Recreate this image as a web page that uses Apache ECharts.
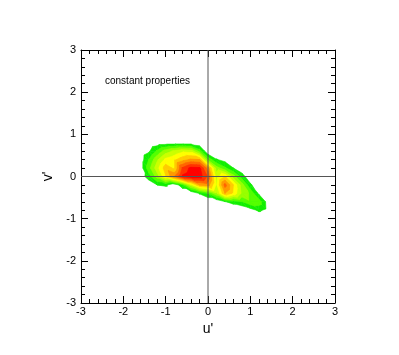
<!DOCTYPE html>
<html>
<head>
<meta charset="utf-8">
<script src="https://cdn.jsdelivr.net/npm/echarts@6/dist/echarts.min.js"></script>
<style>
html, body { margin: 0; padding: 0; background: #fff; }
#main { width: 399px; height: 355px; }
</style>
</head>
<body>
<div id="main"></div>
<script>
// grid nodes of the joint pdf (u', v')
var uNodes = [-1.8, -1.6, -1.4, -1.2, -1.0, -0.8, -0.6, -0.4, -0.2, 0, 0.2, 0.4, 0.6, 0.8, 1.0, 1.2, 1.4, 1.6];
var vNodes = [1.0, 0.8, 0.6, 0.4, 0.2, 0, -0.2, -0.4, -0.6, -0.8, -1.0];
// one row per v node
var density = [
    [0, 0, 0, 0, 0, 0, 0, 0, 0, 0, 0, 0, 0, 0, 0, 0, 0, 0],
    [0, 0, 0, 0.3, 0.4, 0.4, 0.4, 0.4, 0.1, 0, 0, 0, 0, 0, 0, 0, 0, 0],
    [0, 0.2, 0.8, 2.2, 3.5, 4.2, 4.8, 4.6, 2.6, 0, 0, 0, 0, 0, 0, 0, 0, 0],
    [0, 0.3, 2.0, 3.8, 5.3, 5.8, 6.6, 7.2, 7.0, 2.8, 1.1, 0.6, 0, 0, 0, 0, 0, 0],
    [0, 0.3, 2.6, 4.6, 6.6, 5.8, 9.2, 10.3, 10.2, 7.5, 3.5, 2.2, 1.0, 0.3, 0, 0, 0, 0],
    [0, 0.4, 1.5, 3.5, 5.9, 8.0, 10.2, 10.7, 10.6, 8.8, 4.5, 6.0, 3.5, 1.5, 0.2, 0, 0, 0],
    [0, 0, 0.3, 1.0, 1.2, 0.2, 1.7, 4.5, 7.0, 7.5, 4.8, 8.4, 6.0, 3.5, 1.2, 0.2, 0, 0],
    [0, 0, 0, 0, 0, 0, 0, 0, 1.1, 2.0, 3.8, 7.0, 5.8, 3.8, 2.8, 0.8, 0, 0],
    [0, 0, 0, 0, 0, 0, 0, 0, 0, 0, 0, 0.9, 1.4, 1.9, 2.8, 2.6, 0.6, 0],
    [0, 0, 0, 0, 0, 0, 0, 0, 0, 0, 0, 0, 0, 0, 0.5, 1.2, 0.7, 0],
    [0, 0, 0, 0, 0, 0, 0, 0, 0, 0, 0, 0, 0, 0, 0, 0, 0, 0]
];
var levels = [1, 2, 3, 4, 5, 6, 7, 8, 9, 10];
var levelColors = ['#11ee00', '#55ff00', '#99ff00', '#ccff00', '#ffff00', '#ffcc00', '#ff9900', '#ff6600', '#ff3300', '#ff0000'];

// keep the part of a triangle where value >= t (values are linear on it)
function clipTri(pts, t) {
    var out = [];
    for (var i = 0; i < pts.length; i++) {
        var p = pts[i], q = pts[(i + 1) % pts.length];
        var pin = p[2] >= t, qin = q[2] >= t;
        if (pin) out.push(p);
        if (pin !== qin) {
            var f = (t - p[2]) / (q[2] - p[2]);
            out.push([p[0] + f * (q[0] - p[0]), p[1] + f * (q[1] - p[1]), t]);
        }
    }
    return out;
}

function renderLevel(params, api) {
    var t = api.value(2);
    var color = levelColors[params.dataIndex];
    var children = [];
    for (var r = 0; r < vNodes.length - 1; r++) {
        for (var c = 0; c < uNodes.length - 1; c++) {
            var a = [uNodes[c], vNodes[r], density[r][c]];
            var b = [uNodes[c + 1], vNodes[r], density[r][c + 1]];
            var d = [uNodes[c], vNodes[r + 1], density[r + 1][c]];
            var e = [uNodes[c + 1], vNodes[r + 1], density[r + 1][c + 1]];
            [[a, b, e], [a, e, d]].forEach(function (tri) {
                var poly = clipTri(tri, t);
                if (poly.length < 3) return;
                children.push({
                    type: 'polygon',
                    shape: { points: poly.map(function (p) { return api.coord([p[0], p[1]]); }) },
                    style: { fill: color, stroke: color, lineWidth: 0.6 }
                });
            });
        }
    }
    return { type: 'group', children: children };
}

var myChart = echarts.init(document.getElementById('main'));

var tickColor = '#000';
var baseAxis = {
    type: 'value',
    min: -3,
    max: 3,
    interval: 1,
    axisLine: { onZero: false, lineStyle: { color: tickColor, width: 1 } },
    axisTick: { inside: true, length: 7, lineStyle: { color: tickColor } },
    minorTick: { show: true, splitNumber: 5, length: 4, lineStyle: { color: tickColor } },
    splitLine: { show: false },
    axisLabel: { color: '#000', fontSize: 11, fontFamily: 'Liberation Sans' }
};

option = {
    animation: false,
    grid: { left: 81, top: 50, width: 254, height: 253 },
    xAxis: [
        Object.assign({}, baseAxis, {
            position: 'bottom',
            axisLabel: Object.assign({}, baseAxis.axisLabel, { margin: 3 }),
            name: "u'",
            nameLocation: 'middle',
            nameGap: 17,
            nameTextStyle: { color: '#000', fontSize: 14, fontFamily: 'Liberation Sans' }
        }),
        Object.assign({}, baseAxis, { position: 'top', axisLabel: { show: false } })
    ],
    yAxis: [
        Object.assign({}, baseAxis, {
            position: 'left',
            axisLabel: Object.assign({}, baseAxis.axisLabel, { margin: 5 }),
            name: "v'",
            nameLocation: 'middle',
            nameGap: 16,
            nameRotate: 90,
            nameTextStyle: { color: '#000', fontSize: 14, fontFamily: 'Liberation Sans' }
        }),
        Object.assign({}, baseAxis, { position: 'right', axisLabel: { show: false } })
    ],
    graphic: [{
        type: 'text',
        left: 105,
        top: 76,
        style: { text: 'constant properties', fill: '#000', font: '10px "Liberation Sans"' }
    }],
    series: [
        {
            type: 'custom',
            renderItem: renderLevel,
            clip: true,
            silent: true,
            encode: { x: 0, y: 1 },
            data: levels.map(function (t) { return [0, 0, t]; })
        },
        {
            type: 'line',
            silent: true,
            symbol: 'none',
            z: 5,
            lineStyle: { color: '#555', width: 1 },
            data: [[-3, 0], [3, 0]]
        },
        {
            type: 'line',
            silent: true,
            symbol: 'none',
            z: 5,
            lineStyle: { color: '#555', width: 1 },
            data: [[0, -3], [0, 3]]
        }
    ]
};
myChart.setOption(option);
</script>
</body>
</html>
